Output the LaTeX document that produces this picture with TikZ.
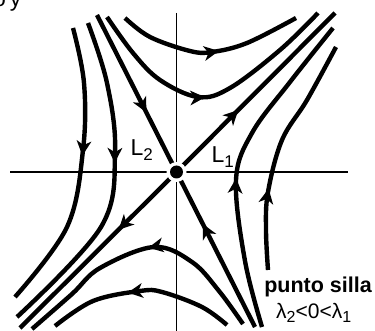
\documentclass[tikz,border=0pt]{standalone}
\usepackage{fontspec}
\setmainfont{Liberation Sans}
\usetikzlibrary{arrows.meta,decorations.markings}
\begin{document}
\begin{tikzpicture}[x=1pt,y=-1pt,
  traj/.style={line width=4.4pt, line cap=butt},
  axisline/.style={line width=1.8pt},
  arr/.style={postaction={decorate}, decoration={markings, mark=at position #1 with {\arrow{Stealth[length=15pt,width=15pt,inset=4.5pt,line width=0pt]}}}},
  lbl/.style={font=\fontsize{23}{27}\selectfont, inner sep=0pt},
  smalllbl/.style={font=\fontsize{21}{25}\selectfont, inner sep=0pt}
]
\useasboundingbox (0,0) rectangle (375,331);
\coordinate (O) at (176.5,172);
% axes
\coordinate (xl) at (10,172);
\coordinate (xr) at (348,172);
\coordinate (yt) at (176.5,13);
\coordinate (yb) at (176.5,335);
\draw[axisline] (xl) -- (xr);
\draw[axisline] (yt) -- (yb);
% eigenlines
\coordinate (L1a) at (335,13);
\coordinate (L1b) at (20,328);
\coordinate (L2a) at (97,15);
\coordinate (L2b) at (255,327);
\draw[traj, arr=0.39] (O) -- (L1a);
\draw[traj, arr=0.37] (O) -- (L1b);
\draw[traj, arr=0.62] (L2a) -- (O);
\draw[traj, arr=0.665] (L2b) -- (O);
% top trajectories
\draw[traj, arr=0.55] plot[smooth, tension=0.6] coordinates {(125,18) (150,37) (190,51) (212,52) (247,43) (296,18)};
\draw[traj, arr=0.48] plot[smooth, tension=0.6] coordinates {(107,17) (133,53) (160,80) (198,97) (230,88) (280,50) (318,13)};
% left trajectories
\draw[traj, arr=0.445] plot[smooth, tension=0.6] coordinates {(73,28) (84,83) (83,150) (67,227) (15,297)};
\draw[traj, arr=0.43] plot[smooth, tension=0.6] coordinates {(88,23) (107,83) (115,152) (101,227) (17,317)};
% bottom trajectories
\draw[traj, arr=0.47] plot[smooth, tension=0.6] coordinates {(243,324) (219,291) (192,262) (154,247) (100,268) (72,294) (32,329)};
\draw[traj, arr=0.57] plot[smooth, tension=0.6] coordinates {(227,325) (202,307) (162,292) (140,291) (93,301) (55,326)};
% right trajectories
\draw[traj, arr=0.455] plot[smooth, tension=0.6] coordinates {(262,327) (245,261) (236,180) (252,133) (290,82) (333,28)};
\draw[traj, arr=0.34] plot[smooth, tension=0.6] coordinates {(268,270) (266,230) (268,192) (282,140) (307,100) (336,47)};
% saddle point
\fill[white] (O) circle (10);
\fill[black] (O) circle (6.5);
% labels
\node[lbl, anchor=base west] (lab2) at (130.5,156) {L\raisebox{-5pt}{\fontsize{17}{17}\selectfont 2}};
\node[lbl, anchor=base west] (lab1) at (211.5,163) {L\raisebox{-5pt}{\fontsize{17}{17}\selectfont 1}};
\node[smalllbl, anchor=base east, font=\fontsize{21.5}{25}\selectfont\bfseries] (ps) at (372,292) {punto silla};
\node[smalllbl, anchor=base west] (ev) at (276,318) {λ\raisebox{-5pt}{\fontsize{16}{16}\selectfont 2}<0<λ\raisebox{-5pt}{\fontsize{16}{16}\selectfont 1}};
\node[lbl, anchor=base west] (top) at (-7,7) {o\hspace{4pt}y};
\end{tikzpicture}
\end{document}
